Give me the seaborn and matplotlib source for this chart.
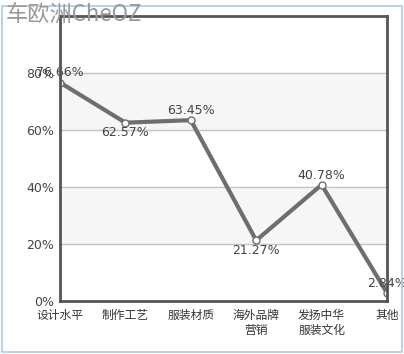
import seaborn as sns
import matplotlib.pyplot as plt
from matplotlib.patches import Rectangle

# 数据
categories = ["设计水平", "制作工艺", "服装材质", "海外品牌\n营销", "发扬中华\n服装文化", "其他"]
values = [76.66, 62.57, 63.45, 21.27, 40.78, 2.84]
label_pos = ["above", "below", "above", "below", "above", "above"]
y_ticks = [0, 20, 40, 60, 80]

sns.set_style("white")
plt.rcParams["font.family"] = ["Noto Sans CJK SC", "DejaVu Sans"]

fig = plt.figure(figsize=(4.04, 3.54), dpi=100)
fig.patch.set_facecolor("white")
ax = fig.add_axes([60 / 404, 1 - 301 / 354, 327 / 404, 285 / 354])

# 背景条纹
for lo, hi in [(20, 40), (60, 80)]:
    ax.axhspan(lo, hi, color="#f6f6f6", zorder=0)
for t in y_ticks[1:]:
    ax.axhline(t, color="#c4c4c4", lw=1, zorder=1)

sns.lineplot(x=categories, y=values, ax=ax, color="#6e6e6e", lw=3,
             marker="o", markersize=5, markerfacecolor="white",
             markeredgecolor="#6e6e6e", markeredgewidth=1, zorder=3, sort=False)

for i, (v, pos) in enumerate(zip(values, label_pos)):
    dy = 7 if pos == "above" else -7
    ax.annotate(f"{v:.2f}%", (i, v), xytext=(0, dy), textcoords="offset points",
                ha="center", va="center", fontsize=9, color="#444444",
                family="DejaVu Sans", zorder=4, annotation_clip=False)

ax.set_xlim(0, len(categories) - 1)
ax.set_ylim(0, 100)
ax.set_yticks(y_ticks)
ax.set_yticklabels([f"{t}%" for t in y_ticks], family="DejaVu Sans")
ax.tick_params(axis="y", labelsize=9, labelcolor="#444444", length=0, pad=4)
ax.tick_params(axis="x", labelsize=8.5, labelcolor="#333333", length=0, pad=6)
ax.set_xlabel("")
ax.set_ylabel("")
for s in ax.spines.values():
    s.set_color("#555555")
    s.set_linewidth(2)
    s.set_visible(True)
    s.set_zorder(5)

# 外框
fig.patches.append(Rectangle((2 / 404, 2 / 354), 400 / 404, 346 / 354,
                             transform=fig.transFigure, fill=False,
                             edgecolor="#a9cde0", lw=1.2))

fig.text(6 / 404, 1 - 15 / 354, "车欧洲CheOZ", fontsize=16, color="#999999",
         ha="left", va="center", zorder=10)

fig.savefig("out.png", dpi=100)
